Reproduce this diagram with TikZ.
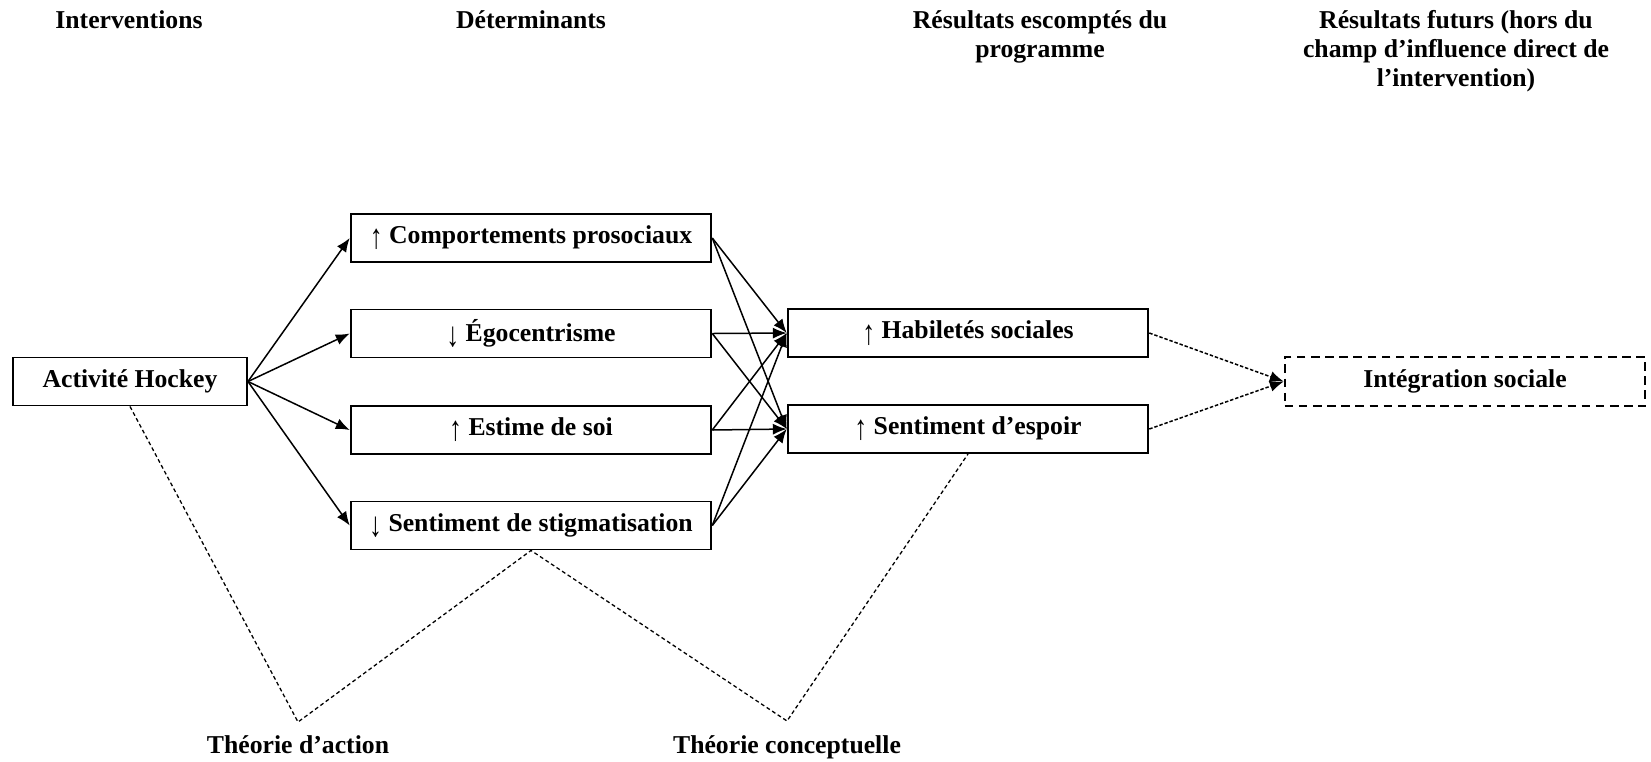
\documentclass[tikz,border=0pt]{standalone}
\usepackage{fontspec}
\usepackage{graphicx}
\setmainfont{Liberation Serif}
\usetikzlibrary{arrows.meta}
% tall thin arrows used as trend markers
\newcommand\trendup{\raisebox{-0.2em}{\scalebox{1}[1.35]{↑}}}
\newcommand\trenddown{\raisebox{-0.2em}{\scalebox{1}[1.35]{↓}}}
\begin{document}
\begin{tikzpicture}[x=0.4667pt,y=-0.4667pt,
  every node/.style={font=\fontsize{12}{13.5}\selectfont\bfseries, inner sep=0pt},
  box/.style={draw,line width=0.9pt,minimum width=168.3pt,minimum height=22.4pt},
  startbox/.style={box,minimum width=109.2pt},
  goalbox/.style={box,dash pattern=on 4pt off 2.6pt,minimum height=22.9pt},
  head/.style={anchor=north,align=center},
  link/.style={line width=0.7pt,-{Latex[length=6.5pt,width=5.2pt]}},
  futurelink/.style={link,dash pattern=on 1.6pt off 0.9pt},
  theory/.style={line width=0.6pt,dash pattern=on 1.8pt off 1.3pt},
  theorylabel/.style={anchor=base}]
\useasboundingbox (0,0) rectangle (1651,761);

% column headings
\node[head] (h1) at (129,10) {Interventions};
\node[head] (h2) at (531,10) {Déterminants};
\node[head] (h3) at (1040,10) {Résultats escomptés du\\programme};
\node[head] (h4) at (1456,10) {Résultats futurs (hors du\\champ d’influence direct de\\l’intervention)};

% boxes
\node[startbox] (act) at (130,381.5) {Activité Hockey};
\node[box] (comp) at (531,238) {\trendup\ Comportements prosociaux};
\node[box] (ego) at (531,333.5) {\trenddown\ Égocentrisme};
\node[box] (est) at (531,430) {\trendup\ Estime de soi};
\node[box] (stig) at (531,525.5) {\trenddown\ Sentiment de stigmatisation};
\node[box] (hab) at (968,333) {\trendup\ Habiletés sociales};
\node[box] (esp) at (968,429) {\trendup\ Sentiment d’espoir};
\node[goalbox] (integ) at (1465,381.5) {Intégration sociale};

% intervention to determinants
\foreach \n in {comp,ego,est,stig} \draw[link] (act.east) -- (\n.west);

% determinants to expected results
\foreach \n in {comp,ego,est,stig} {
  \draw[link] (\n.east) -- (hab.west);
  \draw[link] (\n.east) -- (esp.west);
}

% expected results to future results
\draw[futurelink] (hab.east) -- (integ.west);
\draw[futurelink] (esp.east) -- (integ.west);

% theory brackets
\coordinate (ta) at (298,722);
\coordinate (tc) at (787,721);
\draw[theory] (act.south) -- (ta) -- (stig.south) -- (tc) -- (esp.south);
\node[theorylabel] (talabel) at (298,753) {Théorie d’action};
\node[theorylabel] (tclabel) at (787,753) {Théorie conceptuelle};
\end{tikzpicture}
\end{document}
